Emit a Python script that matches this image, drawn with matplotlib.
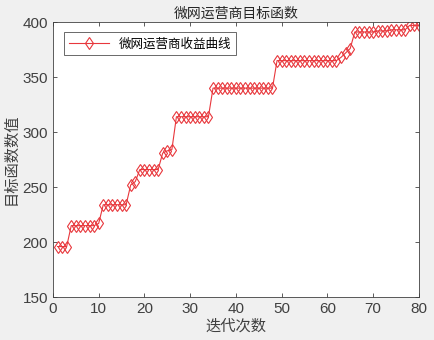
import matplotlib
matplotlib.use("Agg")
import matplotlib.pyplot as plt

plt.rcParams["font.family"] = ["Noto Sans CJK SC", "DejaVu Sans"]

# iteration index and operator revenue per iteration
iterations = list(range(1, 81))
revenue = (
    [196, 196, 196]
    + [215, 215, 215, 215, 215, 215, 217]
    + [234, 234, 234, 234, 234, 234]
    + [252, 255]
    + [266, 266, 266, 266, 266]
    + [281, 283, 284]
    + [314] * 8
    + [340] * 14
    + [365] * 14
    + [368, 372, 376]
    + [391, 391, 391, 391, 391, 392, 392, 392, 393, 393, 393, 393]
    + [397, 397, 397]
)

title_text = "微网运营商目标函数"
x_label = "迭代次数"
y_label = "目标函数数值"
legend_label = "微网运营商收益曲线"

fig = plt.figure(figsize=(4.34, 3.4), dpi=100, facecolor="#f0f0f0")
ax = fig.add_axes([0.122, 0.126, 0.843, 0.809])
ax.set_facecolor("white")

ax.plot(iterations, revenue, color="#e8373c", linewidth=0.8, marker="d",
        markersize=6.2, markerfacecolor="none", markeredgecolor="#e8373c",
        markeredgewidth=0.8, label=legend_label)

ax.set_xlim(0, 80)
ax.set_ylim(150, 400)
ax.set_xticks(range(0, 81, 10))
ax.set_yticks(range(150, 401, 50))

for spine in ax.spines.values():
    spine.set_color("#404040")
    spine.set_linewidth(0.6)
ax.tick_params(direction="in", top=True, right=True, length=3, width=0.6,
               colors="#404040", labelsize=11)
for lab in ax.get_xticklabels() + ax.get_yticklabels():
    lab.set_family(["Liberation Sans", "DejaVu Sans"])

ax.set_title(title_text, fontsize=10, color="#262626", pad=3)
ax.set_xlabel(x_label, fontsize=11, color="#404040", labelpad=1)
ax.set_ylabel(y_label, fontsize=11, color="#404040", labelpad=2)

leg = ax.legend(loc="upper left", fontsize=9, frameon=True, fancybox=False,
                edgecolor="#262626", borderpad=0.4, handlelength=3.2,
                bbox_to_anchor=(0.012, 0.985))
leg.get_frame().set_linewidth(0.6)

fig.savefig("out.png", dpi=100, facecolor=fig.get_facecolor())
